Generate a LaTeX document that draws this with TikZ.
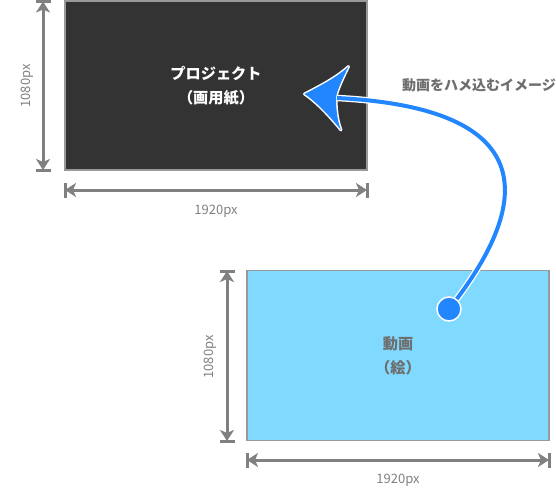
\documentclass[tikz,border=0pt]{standalone}
\usepackage{fontspec}
\setmainfont{Noto Sans CJK JP}
\usetikzlibrary{arrows.meta}
\definecolor{dimgray}{HTML}{808080}
\definecolor{boxborder}{HTML}{999999}
\definecolor{darkfill}{HTML}{333333}
\definecolor{lightfill}{HTML}{80DAFF}
\definecolor{arrowblue}{HTML}{2287FF}
\definecolor{labelgray}{HTML}{6E6E6E}
\tikzset{
  screen/.style={draw=boxborder, line width=1.7pt, minimum width=302pt, minimum height=169pt, inner sep=0pt, align=center, font=\fontsize{15.2}{24}\selectfont\bfseries},
  dimline/.style={draw=dimgray, line width=3pt, {Stealth[length=11pt,width=14pt,inset=3pt]}-{Stealth[length=11pt,width=14pt,inset=3pt]}},
  dimtick/.style={draw=dimgray, line width=3pt},
  dimlabel/.style={text=dimgray, font=\fontsize{13}{14}\selectfont, inner sep=0pt},
}
\begin{document}
\begin{tikzpicture}[x=1pt,y=-1pt]
\useasboundingbox (0,0) rectangle (556,487);
% screens
\node[screen, fill=darkfill, text=white] (proj) at (216,85.5) {プロジェクト\\（画用紙）};
\node[screen, fill=lightfill, text=labelgray, minimum height=170pt] (movie) at (398,355.5) {動画\\（絵）};
% top vertical dimension
\coordinate (tv1) at (43,1.5);
\coordinate (tv2) at (43,170);
\draw[dimtick] (36,1.5) -- (51,1.5);
\draw[dimtick] (36,170) -- (51,170);
\draw[dimline] (tv1) -- (tv2);
\node[dimlabel, rotate=90] (tvl) at (27,86) {1080px};
% top horizontal dimension
\coordinate (th1) at (65,190);
\coordinate (th2) at (367,190);
\draw[dimtick] (65,183) -- (65,198);
\draw[dimtick] (367,183) -- (367,198);
\draw[dimline] (th1) -- (th2);
\node[dimlabel] (thl) at (216,211) {1920px};
% bottom vertical dimension
\coordinate (bv1) at (227,271);
\coordinate (bv2) at (227,441);
\draw[dimtick] (220,271) -- (235,271);
\draw[dimtick] (220,441) -- (235,441);
\draw[dimline] (bv1) -- (bv2);
\node[dimlabel, rotate=90] (bvl) at (210,357) {1080px};
% bottom horizontal dimension
\coordinate (bh1) at (247,460);
\coordinate (bh2) at (549,460);
\draw[dimtick] (247,453) -- (247,468);
\draw[dimtick] (549,453) -- (549,468);
\draw[dimline] (bh1) -- (bh2);
\node[dimlabel] (bhl) at (398,480) {1920px};
% blue arrow
\coordinate (start) at (449,309);
\coordinate (inset) at (337,98);
\def\headpath{(304.5,94) .. controls (318,87) and (336,78) .. (348.5,66.5) .. controls (343,78) and (338,88) .. (336,97) .. controls (336,108) and (337,120) .. (341,130) .. controls (332,119) and (318,103) .. (304.5,94) -- cycle}
\draw[white, line width=6.5pt] (start) .. controls (537,198) and (536,108) .. (inset);
\draw[white, line width=3pt, line join=round] \headpath;
\draw[arrowblue, line width=4pt] (start) .. controls (537,198) and (536,108) .. (inset);
\fill[arrowblue] \headpath;
\node[circle, fill=arrowblue, draw=white, line width=1.5pt, minimum size=24pt, inner sep=0pt] (dot) at (start) {};
% label
\node[anchor=west, text=labelgray, font=\fontsize{14}{16}\selectfont\bfseries, inner sep=0pt] (lbl) at (402,85) {動画をハメ込むイメージ};
\end{tikzpicture}
\end{document}
